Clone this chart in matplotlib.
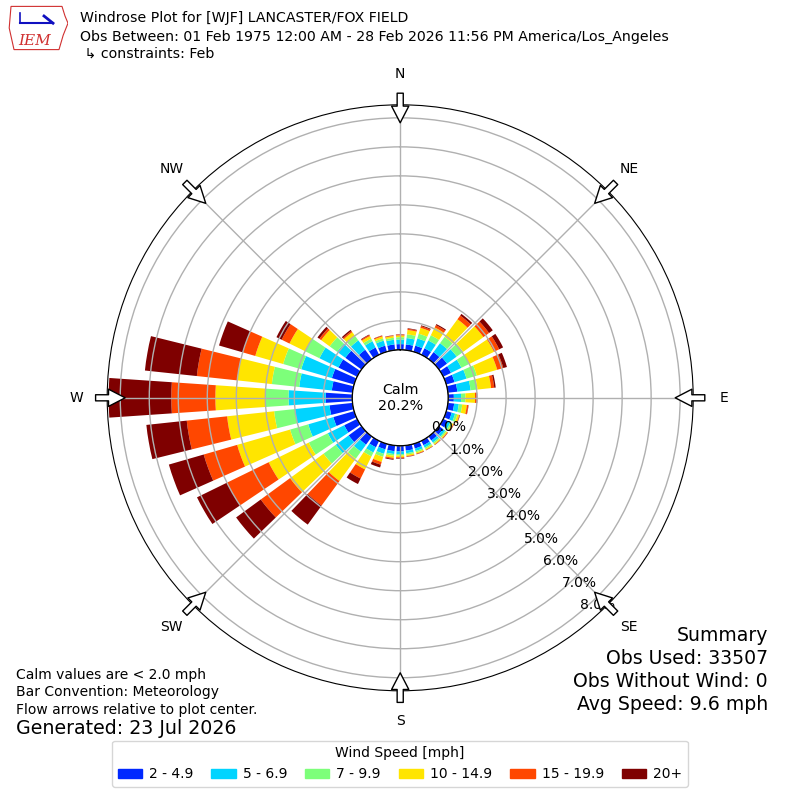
import numpy as np
import matplotlib
matplotlib.use("Agg")
import matplotlib.pyplot as plt
from matplotlib.patches import Rectangle, Polygon

# wind directions (deg, meteorological, bar centres)
directions = np.arange(0, 360, 10)

# cumulative frequency (%) at the outer edge of each speed class, per direction
top_2_5 = [0.20, 0.20, 0.22, 0.25, 0.30, 0.35, 0.30, 0.30, 0.33, 0.20, 0.22, 0.20,
           0.18, 0.18, 0.17, 0.17, 0.17, 0.18, 0.20, 0.20, 0.20, 0.25, 0.35, 0.55,
           0.50, 0.75, 0.80, 0.92, 0.72, 0.80, 0.72, 0.69, 0.40, 0.28, 0.22, 0.20]
top_5_7 = [0.36, 0.42, 0.48, 0.55, 0.68, 0.76, 0.70, 0.73, 0.79, 0.45, 0.38, 0.32,
           0.28, 0.27, 0.26, 0.26, 0.26, 0.27, 0.29, 0.30, 0.36, 0.45, 0.65, 1.10,
           1.13, 1.65, 2.00, 2.20, 1.85, 1.90, 1.45, 1.04, 0.80, 0.52, 0.40, 0.36]
top_7_10 = [0.44, 0.55, 0.65, 0.75, 0.95, 1.04, 1.00, 1.10, 1.03, 0.60, 0.50, 0.40,
            0.34, 0.32, 0.31, 0.31, 0.31, 0.32, 0.34, 0.36, 0.47, 0.60, 0.95, 1.62,
            1.86, 2.30, 2.72, 3.00, 2.80, 2.55, 2.00, 1.36, 0.98, 0.62, 0.48, 0.43]
top_10_15 = [0.50, 0.70, 0.86, 1.05, 1.70, 1.90, 1.95, 1.83, 1.50, 0.93, 0.66, 0.47,
             0.39, 0.36, 0.35, 0.35, 0.35, 0.37, 0.40, 0.43, 0.65, 1.10, 1.90, 3.05,
             3.40, 4.20, 4.35, 4.72, 4.00, 3.55, 2.60, 1.72, 1.15, 0.72, 0.55, 0.49]
top_15_20 = [0.53, 0.74, 0.92, 1.14, 1.86, 2.14, 2.15, 2.05, 1.61, 0.99, 0.71, 0.49,
             0.41, 0.38, 0.36, 0.36, 0.37, 0.39, 0.43, 0.47, 0.75, 1.45, 2.95, 4.30,
             5.00, 5.40, 5.75, 6.24, 5.40, 4.00, 2.90, 1.80, 1.20, 0.76, 0.58, 0.51]
top_20p = [0.54, 0.76, 0.95, 1.18, 1.93, 2.30, 2.30, 2.18, 1.66, 1.01, 0.72, 0.50,
           0.42, 0.39, 0.37, 0.37, 0.38, 0.40, 0.45, 0.50, 0.85, 1.66, 3.76, 5.35,
           6.15, 6.65, 7.15, 8.40, 7.20, 4.85, 3.10, 1.88, 1.25, 0.78, 0.59, 0.52]

speed_labels = ["2 - 4.9", "5 - 6.9", "7 - 9.9", "10 - 14.9", "15 - 19.9", "20+"]
speed_colors = ["#0028ff", "#00d4ff", "#7dff7a", "#ffe500", "#ff4700", "#7f0000"]
calm_pct = 20.2
rings = [0, 1, 2, 3, 4, 5, 6, 7, 8]
compass = ["N", "NE", "E", "SE", "S", "SW", "W", "NW"]

fig = plt.figure(figsize=(8, 8), dpi=100)
ax = fig.add_axes([0.134, 0.1365, 0.7325, 0.7325], projection="polar")
ax.set_theta_zero_location("N")
ax.set_theta_direction(-1)

theta = np.deg2rad(directions)
width = np.deg2rad(7.8)
tops = [top_2_5, top_5_7, top_7_10, top_10_15, top_15_20, top_20p]
prev = np.zeros(len(directions))
for top, col in zip(tops, speed_colors):
    top = np.array(top)
    ax.bar(theta, top - prev, bottom=prev, width=width, color=col, linewidth=0)
    prev = top

ax.set_ylim(0, 8.45)
ax.set_rorigin(-1.65)
ax.set_yticks(rings)
ax.set_yticklabels(["%.1f%%" % r for r in rings], fontsize=10)
ax.set_rlabel_position(140)
for lab in ax.get_yticklabels():
    lab.set_ha("left")
    lab.set_va("bottom")
ax.set_xticks(np.deg2rad(np.arange(0, 360, 45)))
ax.set_xticklabels([])
ax.grid(True, color="#b0b0b0", linewidth=1)

# calm circle
tt = np.linspace(0, 2 * np.pi, 300)
ax.plot(tt, np.zeros_like(tt), color="k", lw=1)
ax.text(0.5, 0.5, "Calm\n%.1f%%" % calm_pct, transform=ax.transAxes,
        ha="center", va="center", fontsize=10.3)

# compass labels and flow arrows
for i, lab in enumerate(compass):
    a = np.deg2rad(i * 45)
    ax.text(a, 9.5, lab, ha="center", va="center", fontsize=10, clip_on=False)
    ax.annotate("", xy=(a, 7.83), xytext=(a, 8.85), annotation_clip=False,
                arrowprops=dict(arrowstyle="simple,head_length=0.6,head_width=0.62,tail_width=0.22",
                                fc="white", ec="k", lw=1, shrinkA=0, shrinkB=0,
                                mutation_scale=20))

# header
fig.text(0.1, 0.9775, "Windrose Plot for [WJF] LANCASTER/FOX FIELD", fontsize=10.2, va="center")
fig.text(0.1, 0.954, "Obs Between: 01 Feb 1975 12:00 AM - 28 Feb 2026 11:56 PM America/Los_Angeles",
         fontsize=10.2, va="center")
fig.text(0.1, 0.9325, " \u21b3 constraints: Feb", fontsize=10.2, va="center")

# simple IEM logo
lax = fig.add_axes([0.01, 0.935, 0.075, 0.06])
lax.set_xlim(0, 1)
lax.set_ylim(0, 1)
lax.axis("off")
lax.add_patch(Polygon([[0.05, 0.95], [0.9, 0.95], [0.95, 0.75], [1.0, 0.6], [0.92, 0.35],
                       [0.85, 0.05], [0.1, 0.05], [0.02, 0.5]],
                      closed=True, fc="white", ec="#d03030", lw=0.8))
lax.plot([0.2, 0.75], [0.6, 0.6], color="#1010c0", lw=1.5)
lax.plot([0.2, 0.2], [0.6, 0.82], color="#1010c0", lw=1.2)
lax.plot([0.6, 0.75], [0.75, 0.6], color="#1010c0", lw=2)
lax.text(0.45, 0.22, "IEM", color="#d03030", fontsize=11, style="italic",
         family="DejaVu Serif", ha="center", va="center")

# footer notes
fig.text(0.02, 0.156, "Calm values are < 2.0 mph", fontsize=10, va="center")
fig.text(0.02, 0.135, "Bar Convention: Meteorology", fontsize=10, va="center")
fig.text(0.02, 0.1125, "Flow arrows relative to plot center.", fontsize=10, va="center")
fig.text(0.02, 0.09, "Generated: 23 Jul 2026", fontsize=13.7, va="center")

fig.text(0.96, 0.206, "Summary", fontsize=13.6, ha="right", va="center")
fig.text(0.96, 0.177, "Obs Used: 33507", fontsize=13.6, ha="right", va="center")
fig.text(0.96, 0.148, "Obs Without Wind: 0", fontsize=13.6, ha="right", va="center")
fig.text(0.96, 0.119, "Avg Speed: 9.6 mph", fontsize=13.6, ha="right", va="center")

handles = [Rectangle((0, 0), 1, 1, color=c) for c in speed_colors]
fig.legend(handles, speed_labels, loc="lower center", bbox_to_anchor=(0.5, 0.008),
           ncol=6, title="Wind Speed [mph]", fontsize=10, title_fontsize=10,
           handlelength=1.75, handleheight=0.6, handletextpad=0.5, columnspacing=1.3)

fig.savefig("out.png", dpi=100)
